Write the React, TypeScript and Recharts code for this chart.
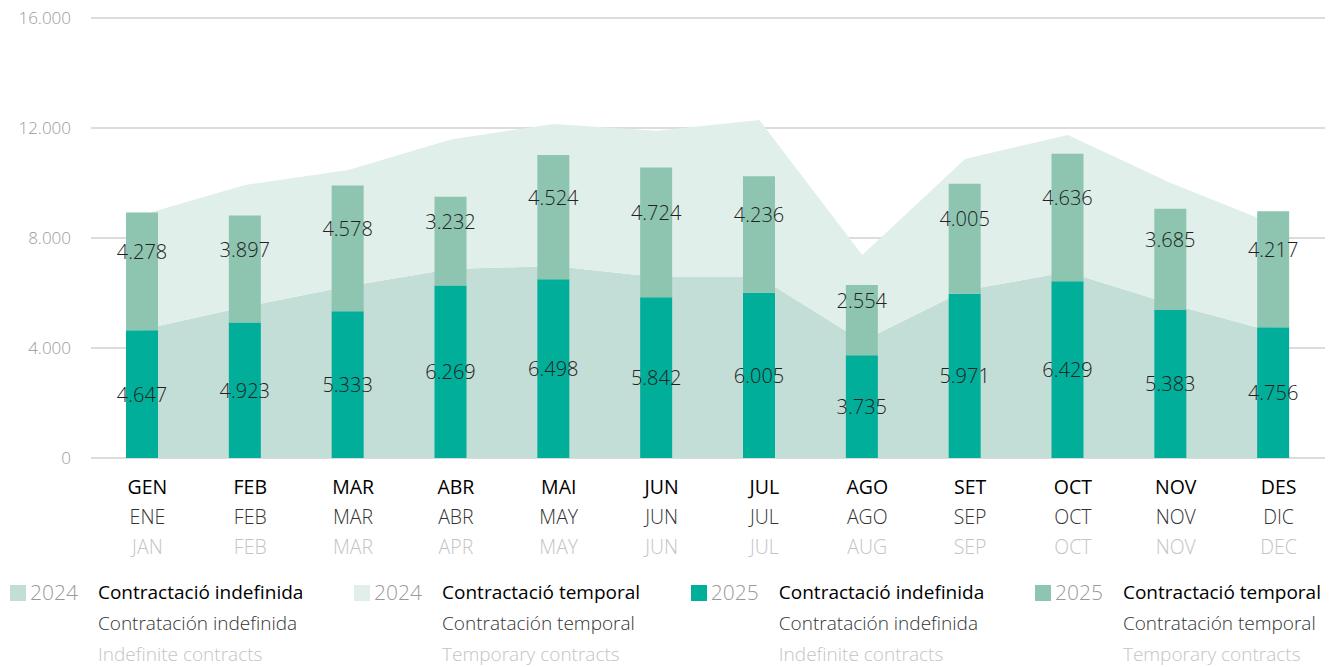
import React from 'react';
import {
  ComposedChart, Area, Bar, XAxis, YAxis, CartesianGrid, LabelList, Legend,
} from 'recharts';

const IND_24 = '#c3ded6';
const TMP_24 = '#e0efea';
const IND_25 = '#00ae99';
const TMP_25 = '#8ec5b1';
const FONT = "'Open Sans', sans-serif";

// month labels, three languages
const monthsCa = ['GEN', 'FEB', 'MAR', 'ABR', 'MAI', 'JUN', 'JUL', 'AGO', 'SET', 'OCT', 'NOV', 'DES'];
const monthsEs = ['ENE', 'FEB', 'MAR', 'ABR', 'MAY', 'JUN', 'JUL', 'AGO', 'SEP', 'OCT', 'NOV', 'DIC'];
const monthsEn = ['JAN', 'FEB', 'MAR', 'APR', 'MAY', 'JUN', 'JUL', 'AUG', 'SEP', 'OCT', 'NOV', 'DEC'];

// 2024 (areas)
const indef2024 = [4670, 5500, 6250, 6870, 6980, 6580, 6580, 4250, 6100, 6760, 5600, 4580];
const temp2024 = [4180, 4430, 4220, 4710, 5170, 5320, 5710, 3130, 4770, 4990, 4400, 3920];

// 2025 (bars, labelled)
const indef2025 = [4647, 4923, 5333, 6269, 6498, 5842, 6005, 3735, 5971, 6429, 5383, 4756];
const temp2025 = [4278, 3897, 4578, 3232, 4524, 4724, 4236, 2554, 4005, 4636, 3685, 4217];

const yTicks = [0, 4000, 8000, 12000, 16000];

const legendItems = [
  { year: '2024', color: IND_24, ca: 'Contractació indefinida', es: 'Contratación indefinida', en: 'Indefinite contracts' },
  { year: '2024', color: TMP_24, ca: 'Contractació temporal', es: 'Contratación temporal', en: 'Temporary contracts' },
  { year: '2025', color: IND_25, ca: 'Contractació indefinida', es: 'Contratación indefinida', en: 'Indefinite contracts' },
  { year: '2025', color: TMP_25, ca: 'Contractació temporal', es: 'Contratación temporal', en: 'Temporary contracts' },
];

const data = monthsCa.map((m, i) => ({
  ca: m, es: monthsEs[i], en: monthsEn[i],
  i24: indef2024[i], t24: temp2024[i],
  i25: indef2025[i], t25: temp2025[i],
}));

const fmt = (v: number) => String(v).replace(/\B(?=(\d{3})+(?!\d))/g, '.');

const MonthTick = (props: any) => {
  const { x, y, payload } = props;
  const i = payload.index ?? monthsCa.indexOf(payload.value);
  return (
    <g transform={`translate(${x},${y})`}>
      <text x={5} y={28} textAnchor="middle" dominantBaseline="central" fontSize={19.5} fontWeight={500} fill="#000">{monthsCa[i]}</text>
      <text x={5} y={58} textAnchor="middle" dominantBaseline="central" fontSize={19.5} fontWeight={300} fill="#333">{monthsEs[i]}</text>
      <text x={5} y={88} textAnchor="middle" dominantBaseline="central" fontSize={19.5} fontWeight={300} fill="#c4c4c4">{monthsEn[i]}</text>
    </g>
  );
};

const segLabel = (shift: number) => (props: any) => {
  const { x, y, width, height, value } = props;
  return (
    <text x={x + width / 2} y={y + height / 2 + shift} textAnchor="middle" dominantBaseline="central"
      fontSize={20} fontWeight={300} fill="#222">{fmt(value)}</text>
  );
};

const renderLegend = () => (
  <div style={{ display: 'flex', justifyContent: 'space-between', padding: '0 10px', height: 99, boxSizing: 'border-box', fontFamily: FONT }}>
    {legendItems.map((it, i) => (
      <div key={i} style={{ display: 'flex', alignItems: 'flex-start', paddingTop: 9 }}>
        <span style={{ width: 16, height: 16, background: it.color, marginTop: 8, marginRight: 4 }} />
        <span style={{ fontSize: 21, fontWeight: 300, color: '#9a9a9a', lineHeight: '31px', marginRight: 20 }}>{it.year}</span>
        <div style={{ lineHeight: '31px', fontSize: 19, textAlign: 'left' }}>
          <div style={{ fontWeight: 500, color: '#000' }}>{it.ca}</div>
          <div style={{ fontWeight: 300, color: '#333' }}>{it.es}</div>
          <div style={{ fontWeight: 300, color: '#c4c4c4' }}>{it.en}</div>
        </div>
      </div>
    ))}
  </div>
);

export default function App() {
  return (
    <div style={{ position: 'absolute', left: 0, top: 0, fontFamily: FONT, background: '#fff' }}>
      <ComposedChart width={1331} height={667} data={data} margin={{ top: 18, right: 6, bottom: 0, left: 0 }}>
        <CartesianGrid vertical={false} stroke="#dcdcdc" strokeWidth={2} />
        <XAxis dataKey="ca" interval={0} tickLine={false} axisLine={false} tickSize={0} tickMargin={0}
          height={110} tick={<MonthTick />} />
        <YAxis domain={[0, 16000]} ticks={yTicks} tickFormatter={fmt} width={91}
          tickLine={false} axisLine={false} tickSize={0} tickMargin={20}
          tick={{ fontSize: 17, fill: '#9a9a9a', fontWeight: 300 }} />
        <Legend verticalAlign="bottom" height={99} content={renderLegend}
          wrapperStyle={{ left: 0, bottom: 0, width: 1331 }} />
        <Area type="linear" dataKey="i24" stackId="y24" stroke="none" fill={IND_24} fillOpacity={1} isAnimationActive={false} />
        <Area type="linear" dataKey="t24" stackId="y24" stroke="none" fill={TMP_24} fillOpacity={1} isAnimationActive={false} />
        <Bar dataKey="i25" stackId="y25" fill={IND_25} barSize={32} isAnimationActive={false}>
          <LabelList dataKey="i25" content={segLabel(0)} />
        </Bar>
        <Bar dataKey="t25" stackId="y25" fill={TMP_25} barSize={32} isAnimationActive={false}>
          <LabelList dataKey="t25" content={segLabel(-20)} />
        </Bar>
      </ComposedChart>
    </div>
  );
}
